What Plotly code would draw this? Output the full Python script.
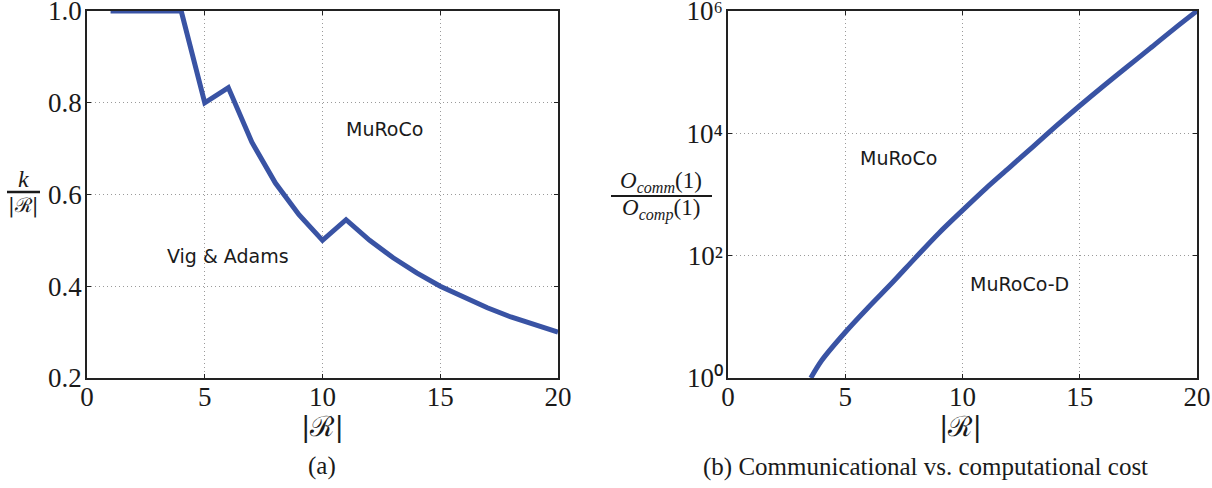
import plotly.graph_objects as go

# Left panel data: k/|R| vs |R|
r_left = [1, 2, 3, 4, 5, 6, 7, 8, 9, 10, 11, 12, 13, 14, 15, 16, 17, 18, 19, 20]
k_ratio = [1.0, 1.0, 1.0, 1.0, 0.8, 0.833, 0.714, 0.625, 0.556, 0.5, 0.545,
           0.5, 0.462, 0.429, 0.4, 0.375, 0.353, 0.333, 0.316, 0.3]

# Right panel data: O_comm(1)/O_comp(1) vs |R|
r_right = [3.53, 4, 5, 6, 7, 8, 9, 10, 11, 12, 13, 14, 15, 16, 17, 18, 19, 20]
cost_ratio = [1, 1.95, 5.6, 14.5, 36, 93, 235, 550, 1260, 2750, 6030, 13200,
              28200, 58900, 120000, 245000, 501000, 1000000]

left_yticks = [0.2, 0.4, 0.6, 0.8, 1.0]
left_yticklabels = ["0.2", "0.4", "0.6", "0.8", "1.0"]
right_yticks = [1, 100, 10000, 1000000]
right_yticklabels = ["10⁰", "10²", "10⁴", "10⁶"]
xticks = [0, 5, 10, 15, 20]

LINE = "#3953a4"
SERIF = "Liberation Serif"
SANS = "DejaVu Sans"
INK = "#1a1a1a"

fig = go.Figure()
fig.add_trace(go.Scatter(x=r_left, y=k_ratio, mode="lines",
                         line=dict(color=LINE, width=5), xaxis="x", yaxis="y",
                         showlegend=False))
fig.add_trace(go.Scatter(x=r_right, y=cost_ratio, mode="lines",
                         line=dict(color=LINE, width=5, shape="spline", smoothing=0.9),
                         xaxis="x2", yaxis="y2", showlegend=False))

axis_common = dict(showline=True, linecolor="#222", linewidth=1.5, mirror="ticks",
                   ticks="inside", ticklen=4, tickcolor="#222",
                   showgrid=True, gridcolor="#9a9a9a", griddash="1px,3px", gridwidth=1,
                   zeroline=False, ticklabeloverflow="allow", automargin=False,
                   tickfont=dict(family=SERIF, size=27, color=INK))

fig.update_layout(
    width=1212, height=488,
    margin=dict(l=0, r=0, t=0, b=0, autoexpand=False),
    plot_bgcolor="white", paper_bgcolor="white",
    xaxis=dict(domain=[0.0718, 0.4604], range=[0, 20.001], tickvals=xticks,
               anchor="y", ticklabelstandoff=-6, **axis_common),
    yaxis=dict(domain=[0.2254, 0.9775], range=[0.1999, 1.0001], tickvals=left_yticks,
               ticktext=left_yticklabels, anchor="x", ticklabelstandoff=-2,
               **axis_common),
    xaxis2=dict(domain=[0.6007, 0.9876], range=[0, 20.001], tickvals=xticks,
                anchor="y2", ticklabelstandoff=-6, **axis_common),
    yaxis2=dict(domain=[0.2254, 0.9775], type="log", range=[-0.0001, 6.0001],
                tickvals=right_yticks, ticktext=right_yticklabels, anchor="x2",
                ticklabelstandoff=-2, **axis_common),
)

ann = []
def lab(x, y, xref, yref, text, family, size):
    ann.append(dict(x=x, y=y, xref=xref, yref=yref, text=text, showarrow=False,
                    xanchor="center", yanchor="middle",
                    font=dict(family=family, size=size, color=INK)))

# region labels
lab(12.65, 0.743, "x", "y", "MuRoCo", SANS, 19)
lab(5.99, 0.466, "x", "y", "Vig &amp; Adams", SANS, 19)
lab(7.25, 3.59, "x2", "y2", "MuRoCo", SANS, 19)
lab(12.45, 1.53, "x2", "y2", "MuRoCo-D", SANS, 19)

def px(x, y):
    return x / 1212, 1 - y / 488

# x-axis titles
for cx in (322, 960):
    X, Y = px(cx, 426)
    lab(X, Y, "paper", "paper", "|ℛ|", "DejaVu Serif", 28)
# captions
X, Y = px(322, 466)
lab(X, Y, "paper", "paper", "(a)", SERIF, 25)
X, Y = px(925, 467)
lab(X, Y, "paper", "paper", "(b) Communicational vs. computational cost", SERIF, 25)

# left y-label fraction
X, Y = px(23, 179)
lab(X, Y, "paper", "paper", "<i>k</i>", SERIF, 24)
X, Y = px(23, 205)
lab(X, Y, "paper", "paper", "|ℛ|", "DejaVu Serif", 20)
# right y-label fraction
X, Y = px(661, 182)
lab(X, Y, "paper", "paper", "<i>O</i><sub><i>comm</i></sub>(1)", SERIF, 23)
X, Y = px(661, 209)
lab(X, Y, "paper", "paper", "<i>O</i><sub><i>comp</i></sub>(1)", SERIF, 23)

fig.update_layout(annotations=ann)

shapes = []
x0, y0 = px(7, 192)
x1, _ = px(40, 192)
shapes.append(dict(type="line", xref="paper", yref="paper", x0=x0, x1=x1, y0=y0, y1=y0,
                   line=dict(color=INK, width=2.5)))
x0, y0 = px(611, 196)
x1, _ = px(712, 196)
shapes.append(dict(type="line", xref="paper", yref="paper", x0=x0, x1=x1, y0=y0, y1=y0,
                   line=dict(color=INK, width=2)))
fig.update_layout(shapes=shapes)

fig.write_html("out.html")
